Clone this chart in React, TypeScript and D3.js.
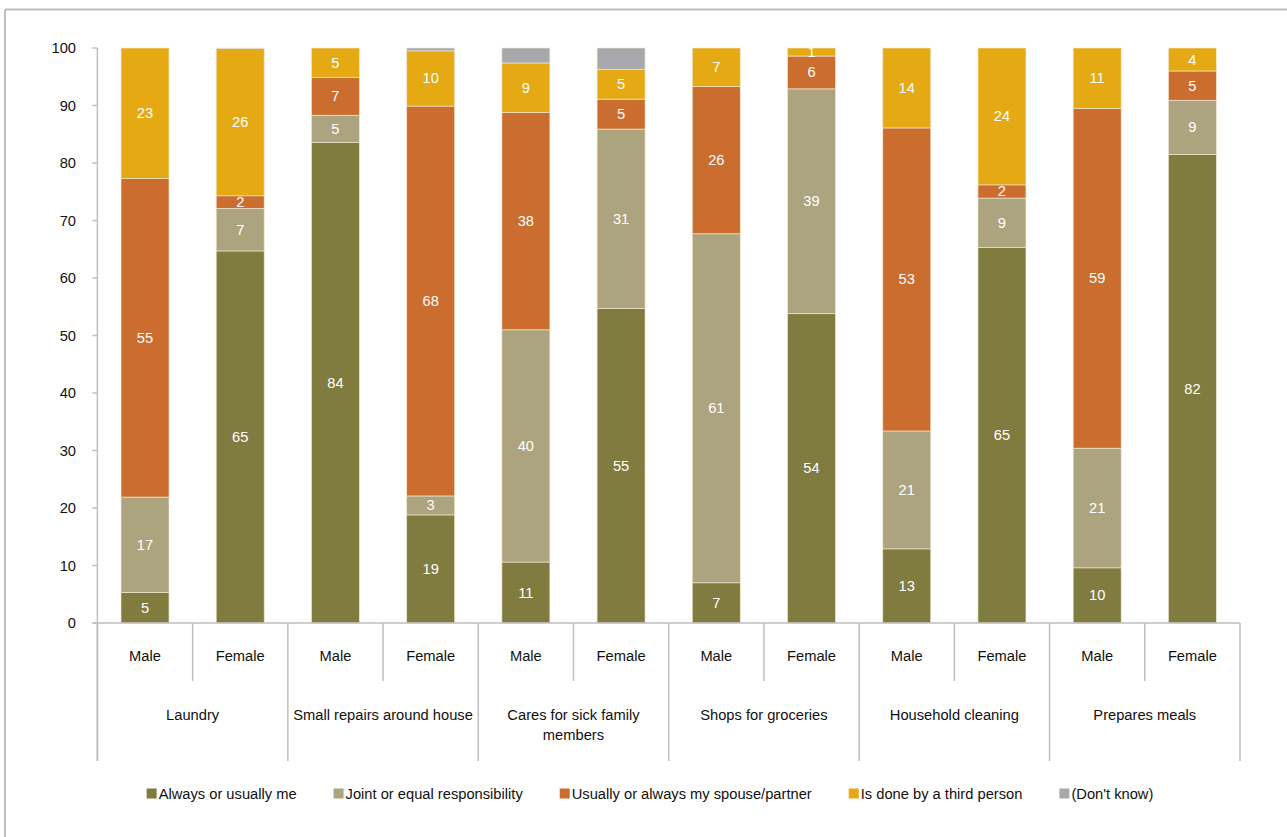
import React from "react";
import * as d3 from "d3";

const groups = [
  "Laundry",
  "Small repairs around house",
  "Cares for sick family members",
  "Shops for groceries",
  "Household cleaning",
  "Prepares meals",
];
const genders = ["Male", "Female"];

const seriesNames = [
  "Always or usually me",
  "Joint or equal responsibility",
  "Usually or always my spouse/partner",
  "Is done by a third person",
  "(Don't know)",
];
const seriesColors = ["#807B3F", "#ACA47E", "#CB6D2F", "#E5A914", "#A7A8AB"];

// order: Laundry M, F, Small repairs M, F, Cares M, F, Shops M, F, Cleaning M, F, Meals M, F
const alwaysMe = [5.3, 64.7, 83.6, 18.8, 10.6, 54.7, 7.0, 53.8, 12.9, 65.3, 9.6, 81.5];
const joint = [16.6, 7.4, 4.7, 3.3, 40.4, 31.2, 60.7, 39.1, 20.5, 8.6, 20.8, 9.4];
const spouse = [55.4, 2.2, 6.6, 67.8, 37.8, 5.2, 25.6, 5.7, 52.7, 2.3, 59.1, 5.1];
const thirdPerson = [22.7, 25.6, 5.1, 9.6, 8.6, 5.2, 6.7, 1.4, 13.9, 23.8, 10.5, 4.0];
const dontKnow = [0, 0.1, 0, 0.5, 2.6, 3.7, 0, 0, 0, 0, 0, 0];

const yTicks = [0, 10, 20, 30, 40, 50, 60, 70, 80, 90, 100];

const FONT = "'Liberation Sans', Arial, sans-serif";
const FS = 14.7;

function measure(text: string, size = FS) {
  const c = document.createElement("canvas").getContext("2d")!;
  c.font = `${size}px 'Liberation Sans', Arial, sans-serif`;
  return c.measureText(text).width;
}

function wrap(text: string, maxW: number) {
  const words = text.split(" ");
  const lines: string[] = [];
  let cur = "";
  for (const w of words) {
    const t = cur ? cur + " " + w : w;
    if (measure(t) > maxW && cur) {
      lines.push(cur);
      cur = w;
    } else cur = t;
  }
  if (cur) lines.push(cur);
  return lines;
}

export default function App() {
  const W = 1287;
  const H = 837;
  const x0 = 97.4;
  const x1 = 1240;
  const yTop = 48;
  const yBot = 623;

  const keys = groups.flatMap((g) => genders.map((s) => g + "|" + s));
  const x = d3
    .scaleBand<string>()
    .domain(keys)
    .range([x0, x1])
    .paddingInner(0.496)
    .paddingOuter(0.248);
  const step = x.step();
  const y = d3.scaleLinear().domain([0, 100]).range([yBot, yTop]);

  const table = keys.map((k, i) => ({
    key: k,
    s0: alwaysMe[i],
    s1: joint[i],
    s2: spouse[i],
    s3: thirdPerson[i],
    s4: dontKnow[i],
  }));
  const stack = d3.stack<any>().keys(["s0", "s1", "s2", "s3", "s4"]);
  const stacked = stack(table);

  // legend layout
  const sq = 10;
  const gapSq = 2;
  const gapItem = 37;
  const widths = seriesNames.map((n) => sq + gapSq + measure(n));
  const totalW = widths.reduce((a, b) => a + b, 0) + gapItem * (seriesNames.length - 1);
  let lx = 650 - totalW / 2;
  const legendPos = widths.map((w) => {
    const p = lx;
    lx += w + gapItem;
    return p;
  });

  const axisColor = "#BEBEBE";

  return (
    <svg
      width={W}
      height={H}
      style={{ position: "absolute", left: 0, top: 0, background: "#fff" }}
      fontFamily={FONT}
      fontSize={FS}
    >
      <rect x={0} y={0} width={W} height={H} fill="#fff" />
      {/* outer frame */}
      <line x1={5} y1={9.5} x2={W} y2={9.5} stroke="#BDBDBD" strokeWidth={2} />
      <line x1={5} y1={9.5} x2={5} y2={H} stroke="#BDBDBD" strokeWidth={2} />

      {/* y axis */}
      <line x1={x0} y1={yTop} x2={x0} y2={761} stroke={axisColor} strokeWidth={1.5} />
      {yTicks.map((t) => (
        <g key={t}>
          <line x1={x0 - 5} x2={x0} y1={y(t)} y2={y(t)} stroke={axisColor} strokeWidth={1.5} />
          <text x={76} y={y(t)} textAnchor="end" dominantBaseline="central" fill="#111">
            {t}
          </text>
        </g>
      ))}

      {/* bars */}
      {stacked.map((layer, li) => (
        <g key={li}>
          {layer.map((d, i) => {
            const v = d[1] - d[0];
            if (v <= 0) return null;
            const bx = x(keys[i])!;
            const top = y(d[1]);
            const h = y(d[0]) - y(d[1]);
            return (
              <g key={i}>
                <rect
                  x={bx}
                  y={top}
                  width={x.bandwidth()}
                  height={h}
                  fill={seriesColors[li]}
                  stroke="#F3EAD2"
                  strokeOpacity={0.8}
                  strokeWidth={0.8}
                />
                {li < 4 && (
                  <text
                    x={bx + x.bandwidth() / 2}
                    y={top + h / 2}
                    textAnchor="middle"
                    dominantBaseline="central"
                    fill="#fff"
                  >
                    {Math.round(v)}
                  </text>
                )}
              </g>
            );
          })}
        </g>
      ))}

      {/* x axis */}
      <line x1={x0 - 5} x2={x1} y1={yBot} y2={yBot} stroke={axisColor} strokeWidth={1.5} />
      {d3.range(keys.length + 1).map((i) => (
        <line
          key={i}
          x1={x0 + i * step}
          x2={x0 + i * step}
          y1={yBot}
          y2={i % 2 === 0 ? 761 : 681}
          stroke={axisColor}
          strokeWidth={1.5}
        />
      ))}
      {keys.map((k, i) => (
        <text key={k} x={x(k)! + x.bandwidth() / 2} y={656} textAnchor="middle" dominantBaseline="central" fill="#111">
          {k.split("|")[1]}
        </text>
      ))}
      {groups.map((g, gi) => {
        const cx = x0 + (gi * 2 + 1) * step;
        const lines = wrap(g, 2 * step - 6);
        return (
          <text key={g} x={cx} textAnchor="middle" fill="#111">
            {lines.map((l, li) => (
              <tspan key={li} x={cx} y={715 + li * 20} dominantBaseline="central">
                {l}
              </tspan>
            ))}
          </text>
        );
      })}

      {/* legend */}
      {seriesNames.map((n, i) => (
        <g key={n} transform={`translate(${legendPos[i]},794)`}>
          <rect x={0} y={-5.5} width={sq} height={sq} fill={seriesColors[i]} />
          <text x={sq + gapSq} y={0} dominantBaseline="central" fill="#111">
            {n}
          </text>
        </g>
      ))}
    </svg>
  );
}
